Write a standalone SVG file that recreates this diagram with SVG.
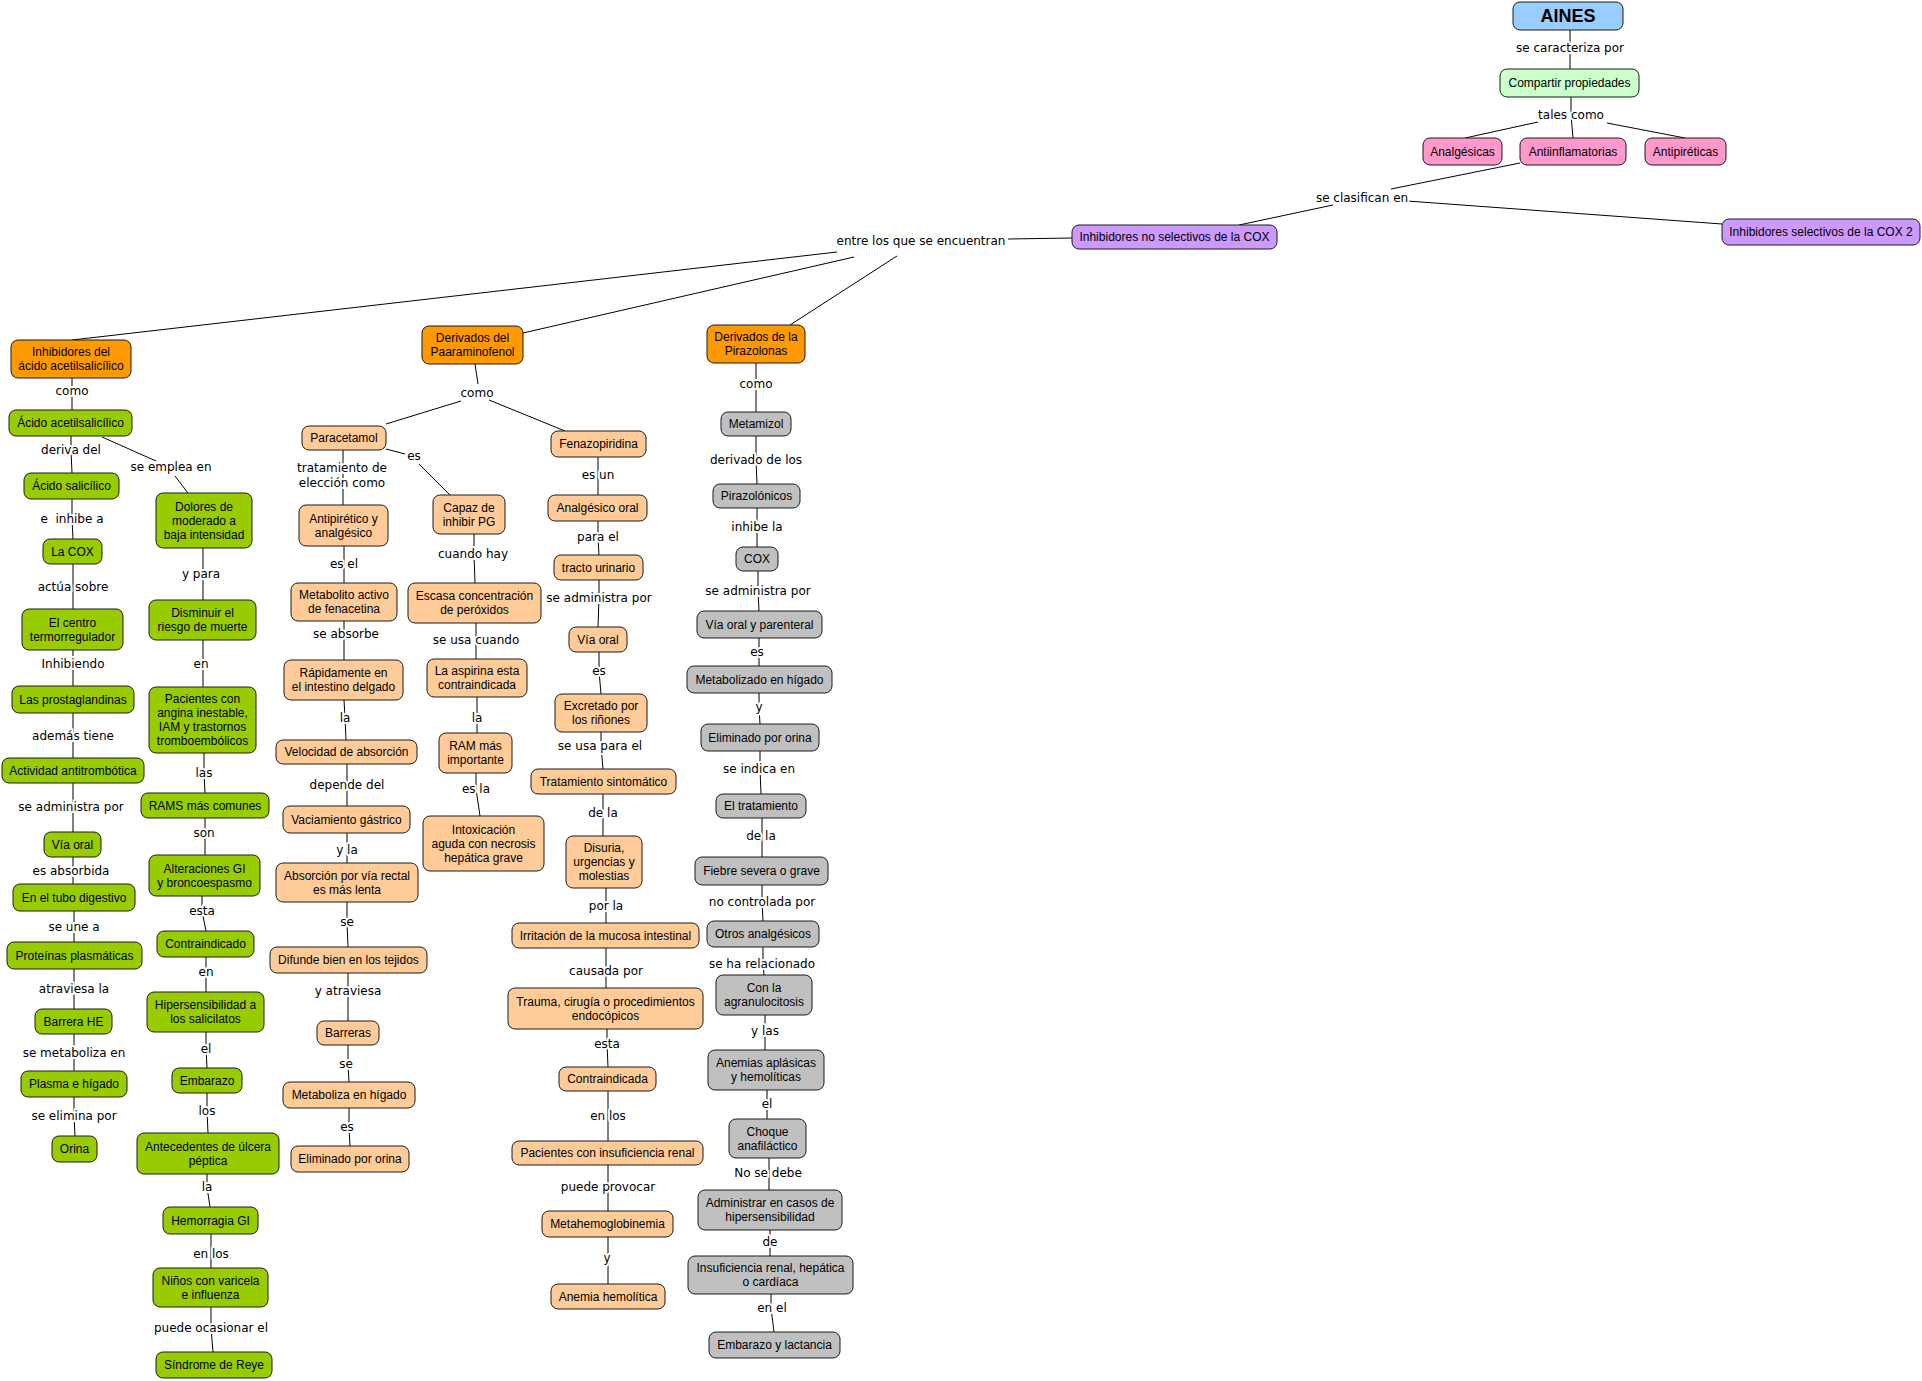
<svg xmlns="http://www.w3.org/2000/svg" width="1922" height="1381" viewBox="0 0 1922 1381">
<style>
rect.n{stroke:#1a1a1a;stroke-width:1}
.blue{fill:#99ccff}.lg{fill:#ccffcc}.pink{fill:#ff99cc}.pur{fill:#cc99ff}
.or{fill:#ff9900}.gr{fill:#99cc00}.lo{fill:#ffcc99}.gy{fill:#c0c0c0}
text.t{font-family:"Liberation Sans",Arial,sans-serif;font-size:12px;text-anchor:middle;fill:#000}
text.l{font-family:"DejaVu Sans",Verdana,sans-serif;font-size:12px;text-anchor:middle;fill:#000;stroke:#fff;stroke-width:4px;stroke-linejoin:round;paint-order:stroke}
#connectors path{stroke:#000;stroke-width:1;fill:none}
</style>
<rect width="1922" height="1381" fill="#fff"/>
<g id="connectors">
<path d="M1570,30V69"/>
<path d="M1571,97L1571,115L1573,138"/>
<path d="M1538,122L1465,138"/>
<path d="M1607,123L1685,138"/>
<path d="M1520,163L1391,189"/>
<path d="M1333,205L1239,225"/>
<path d="M1407,201L1722,224"/>
<path d="M1008,239L1072,238"/>
<path d="M837,252L72,340"/>
<path d="M854,257L523,333"/>
<path d="M897,256L790,325"/>
<path d="M72,378V410"/>
<path d="M71,436L71,450L72,473"/>
<path d="M102,437L156,461"/>
<path d="M175,476L188,493"/>
<path d="M72,499L72,519L73,539"/>
<path d="M73,564V609"/>
<path d="M73,650V686"/>
<path d="M73,713V758"/>
<path d="M73,783V832"/>
<path d="M73,857V884"/>
<path d="M74,911V942"/>
<path d="M74,969V1009"/>
<path d="M74,1034V1071"/>
<path d="M74,1097L74,1116L75,1136"/>
<path d="M203,548V600"/>
<path d="M203,640V687"/>
<path d="M204,753L204,773L205,793"/>
<path d="M205,818V855"/>
<path d="M202,896L202,911L206,931"/>
<path d="M206,957V992"/>
<path d="M206,1032L206,1049L207,1068"/>
<path d="M207,1093L207,1111L208,1133"/>
<path d="M207,1174L207,1187L210,1207"/>
<path d="M211,1234V1268"/>
<path d="M211,1307L211,1328L213,1352"/>
<path d="M475,364L478,384"/>
<path d="M461,401L386,424"/>
<path d="M489,400L565,431"/>
<path d="M343,450V505"/>
<path d="M386,449L405,454"/>
<path d="M419,464L450,495"/>
<path d="M344,546V583"/>
<path d="M344,621V660"/>
<path d="M344,700L345,718L346,740"/>
<path d="M347,764V806"/>
<path d="M347,833V863"/>
<path d="M347,902L347,922L348,947"/>
<path d="M348,973V1021"/>
<path d="M348,1045L348,1064L349,1082"/>
<path d="M349,1108L349,1127L350,1146"/>
<path d="M474,534L474,554L475,583"/>
<path d="M476,623V659"/>
<path d="M477,697V733"/>
<path d="M476,773L476,789L480,816"/>
<path d="M598,457V495"/>
<path d="M598,521L598,537L599,555"/>
<path d="M599,580L599,598L598,627"/>
<path d="M599,652L599,671L601,694"/>
<path d="M601,732L601,746L603,769"/>
<path d="M603,794V836"/>
<path d="M606,888V923"/>
<path d="M606,948V988"/>
<path d="M607,1029L607,1044L608,1067"/>
<path d="M608,1091V1141"/>
<path d="M608,1165V1211"/>
<path d="M608,1237V1284"/>
<path d="M756,363V412"/>
<path d="M756,436L756,460L757,484"/>
<path d="M757,508V547"/>
<path d="M758,571L758,591L759,611"/>
<path d="M759,638V666"/>
<path d="M759,693L759,707L760,724"/>
<path d="M760,751L760,769L761,794"/>
<path d="M762,818V857"/>
<path d="M762,885L762,902L763,921"/>
<path d="M763,947L763,964L764,975"/>
<path d="M765,1015V1050"/>
<path d="M767,1090V1119"/>
<path d="M769,1158V1190"/>
<path d="M770,1230V1256"/>
<path d="M771,1294L771,1308L774,1332"/>
</g>
<g id="link-labels">
<text class="l" x="1570" y="52">se caracteriza por</text>
<text class="l" x="1571" y="119">tales como</text>
<text class="l" x="1362" y="202">se clasifican en</text>
<text class="l" x="921" y="245">entre los que se encuentran</text>
<text class="l" x="72" y="395">como</text>
<text class="l" x="71" y="454">deriva del</text>
<text class="l" x="171" y="471">se emplea en</text>
<text class="l" x="72" y="523" xml:space="preserve" style="white-space:pre">e  inhibe a</text>
<text class="l" x="73" y="591">actúa sobre</text>
<text class="l" x="73" y="668">Inhibiendo</text>
<text class="l" x="73" y="740">además tiene</text>
<text class="l" x="71" y="811">se administra por</text>
<text class="l" x="71" y="875">es absorbida</text>
<text class="l" x="74" y="931">se une a</text>
<text class="l" x="74" y="993">atraviesa la</text>
<text class="l" x="74" y="1057">se metaboliza en</text>
<text class="l" x="74" y="1120">se elimina por</text>
<text class="l" x="201" y="578">y para</text>
<text class="l" x="201" y="668">en</text>
<text class="l" x="204" y="777">las</text>
<text class="l" x="204" y="837">son</text>
<text class="l" x="202" y="915">esta</text>
<text class="l" x="206" y="976">en</text>
<text class="l" x="206" y="1053">el</text>
<text class="l" x="207" y="1115">los</text>
<text class="l" x="207" y="1191">la</text>
<text class="l" x="211" y="1258">en los</text>
<text class="l" x="211" y="1332">puede ocasionar el</text>
<text class="l" x="477" y="397">como</text>
<text class="l" x="414" y="460">es</text>
<text class="l" x="342" y="472">tratamiento de</text>
<text class="l" x="342" y="487">elección como</text>
<text class="l" x="344" y="568">es el</text>
<text class="l" x="346" y="638">se absorbe</text>
<text class="l" x="345" y="722">la</text>
<text class="l" x="347" y="789">depende del</text>
<text class="l" x="347" y="854">y la</text>
<text class="l" x="347" y="926">se</text>
<text class="l" x="348" y="995">y atraviesa</text>
<text class="l" x="346" y="1068">se</text>
<text class="l" x="347" y="1131">es</text>
<text class="l" x="473" y="558">cuando hay</text>
<text class="l" x="476" y="644">se usa cuando</text>
<text class="l" x="477" y="722">la</text>
<text class="l" x="476" y="793">es la</text>
<text class="l" x="598" y="479">es un</text>
<text class="l" x="598" y="541">para el</text>
<text class="l" x="599" y="602">se administra por</text>
<text class="l" x="599" y="675">es</text>
<text class="l" x="600" y="750">se usa para el</text>
<text class="l" x="603" y="817">de la</text>
<text class="l" x="606" y="910">por la</text>
<text class="l" x="606" y="975">causada por</text>
<text class="l" x="607" y="1048">esta</text>
<text class="l" x="608" y="1120">en los</text>
<text class="l" x="608" y="1191">puede provocar</text>
<text class="l" x="607" y="1262">y</text>
<text class="l" x="756" y="388">como</text>
<text class="l" x="756" y="464">derivado de los</text>
<text class="l" x="757" y="531">inhibe la</text>
<text class="l" x="758" y="595">se administra por</text>
<text class="l" x="757" y="656">es</text>
<text class="l" x="759" y="711">y</text>
<text class="l" x="759" y="773">se indica en</text>
<text class="l" x="761" y="840">de la</text>
<text class="l" x="762" y="906">no controlada por</text>
<text class="l" x="762" y="968">se ha relacionado</text>
<text class="l" x="765" y="1035">y las</text>
<text class="l" x="767" y="1108">el</text>
<text class="l" x="768" y="1177">No se debe</text>
<text class="l" x="770" y="1246">de</text>
<text class="l" x="772" y="1312">en el</text>
</g>
<g id="n-aines"><rect class="n blue" x="1513" y="2" width="110" height="28" rx="7"/><text class="t" x="1568" y="22" style="font-size:18px;font-weight:bold">AINES</text></g>
<g id="n-compartir"><rect class="n lg" x="1500" y="69" width="139" height="28" rx="7"/><text class="t" x="1569.5" y="87">Compartir propiedades</text></g>
<g id="n-analgesicas"><rect class="n pink" x="1423" y="138" width="79" height="27" rx="7"/><text class="t" x="1462.5" y="155.5">Analgésicas</text></g>
<g id="n-antiinflamatorias"><rect class="n pink" x="1520" y="138" width="106" height="27" rx="7"/><text class="t" x="1573" y="155.5">Antiinflamatorias</text></g>
<g id="n-antipireticas"><rect class="n pink" x="1645" y="138" width="81" height="27" rx="7"/><text class="t" x="1685.5" y="155.5">Antipiréticas</text></g>
<g id="n-inh-no-sel"><rect class="n pur" x="1072" y="225" width="205" height="24" rx="7"/><text class="t" x="1174.5" y="241">Inhibidores no selectivos de la COX</text></g>
<g id="n-inh-sel"><rect class="n pur" x="1722" y="219" width="198" height="26" rx="7"/><text class="t" x="1821" y="236">Inhibidores selectivos de la COX 2</text></g>
<g id="n-inh-acido"><rect class="n or" x="11" y="340" width="120" height="38" rx="7"/><text class="t" x="71"><tspan x="71" y="356">Inhibidores del</tspan><tspan x="71" y="370">ácido acetilsalicílico</tspan></text></g>
<g id="n-der-paar"><rect class="n or" x="422" y="326" width="101" height="38" rx="7"/><text class="t"><tspan x="472.5" y="342">Derivados del</tspan><tspan x="472.5" y="356">Paaraminofenol</tspan></text></g>
<g id="n-der-piraz"><rect class="n or" x="707" y="325" width="98" height="38" rx="7"/><text class="t"><tspan x="756" y="341">Derivados de la</tspan><tspan x="756" y="355">Pirazolonas</tspan></text></g>
<g id="n-acido-acetil"><rect class="n gr" x="9" y="410" width="123" height="26" rx="7"/><text class="t" x="70.5" y="427">Ácido acetilsalicílico</text></g>
<g id="n-acido-salicilico"><rect class="n gr" x="24" y="473" width="95" height="26" rx="7"/><text class="t" x="71.5" y="490">Ácido salicílico</text></g>
<g id="n-la-cox"><rect class="n gr" x="43" y="539" width="59" height="25" rx="7"/><text class="t" x="72.5" y="555.5">La COX</text></g>
<g id="n-centro"><rect class="n gr" x="22" y="609" width="101" height="41" rx="7"/><text class="t"><tspan x="72.5" y="626.5">El centro</tspan><tspan x="72.5" y="640.5">termorregulador</tspan></text></g>
<g id="n-prostaglandinas"><rect class="n gr" x="12" y="686" width="122" height="27" rx="7"/><text class="t" x="73" y="703.5">Las prostaglandinas</text></g>
<g id="n-actividad"><rect class="n gr" x="2" y="758" width="142" height="25" rx="7"/><text class="t" x="73" y="774.5">Actividad antitrombótica</text></g>
<g id="n-via-oral-a"><rect class="n gr" x="44" y="832" width="57" height="25" rx="7"/><text class="t" x="72.5" y="848.5">Vía oral</text></g>
<g id="n-tubo"><rect class="n gr" x="13" y="884" width="122" height="27" rx="7"/><text class="t" x="74" y="901.5">En el tubo digestivo</text></g>
<g id="n-proteinas"><rect class="n gr" x="7" y="942" width="135" height="27" rx="7"/><text class="t" x="74.5" y="959.5">Proteínas plasmáticas</text></g>
<g id="n-barrera-he"><rect class="n gr" x="35" y="1009" width="77" height="25" rx="7"/><text class="t" x="73.5" y="1025.5">Barrera HE</text></g>
<g id="n-plasma"><rect class="n gr" x="21" y="1071" width="106" height="26" rx="7"/><text class="t" x="74" y="1088">Plasma e hígado</text></g>
<g id="n-orina"><rect class="n gr" x="52" y="1136" width="45" height="26" rx="7"/><text class="t" x="74.5" y="1153">Orina</text></g>
<g id="n-dolores"><rect class="n gr" x="156" y="493" width="96" height="55" rx="7"/><text class="t"><tspan x="204" y="510.5">Dolores de</tspan><tspan x="204" y="524.5">moderado a</tspan><tspan x="204" y="538.5">baja intensidad</tspan></text></g>
<g id="n-disminuir"><rect class="n gr" x="149" y="600" width="107" height="40" rx="7"/><text class="t"><tspan x="202.5" y="617">Disminuir el</tspan><tspan x="202.5" y="631">riesgo de muerte</tspan></text></g>
<g id="n-pacientes-angina"><rect class="n gr" x="149" y="687" width="107" height="66" rx="7"/><text class="t"><tspan x="202.5" y="703">Pacientes con</tspan><tspan x="202.5" y="717">angina inestable,</tspan><tspan x="202.5" y="731">IAM y trastornos</tspan><tspan x="202.5" y="745">tromboembólicos</tspan></text></g>
<g id="n-rams"><rect class="n gr" x="141" y="793" width="128" height="25" rx="7"/><text class="t" x="205" y="809.5">RAMS más comunes</text></g>
<g id="n-alteraciones"><rect class="n gr" x="149" y="855" width="111" height="41" rx="7"/><text class="t"><tspan x="204.5" y="872.5">Alteraciones GI</tspan><tspan x="204.5" y="886.5">y broncoespasmo</tspan></text></g>
<g id="n-contraindicado"><rect class="n gr" x="157" y="931" width="97" height="26" rx="7"/><text class="t" x="205.5" y="948">Contraindicado</text></g>
<g id="n-hipersens"><rect class="n gr" x="147" y="992" width="117" height="40" rx="7"/><text class="t"><tspan x="205.5" y="1009">Hipersensibilidad a</tspan><tspan x="205.5" y="1023">los salicilatos</tspan></text></g>
<g id="n-embarazo"><rect class="n gr" x="172" y="1068" width="70" height="25" rx="7"/><text class="t" x="207" y="1084.5">Embarazo</text></g>
<g id="n-antecedentes"><rect class="n gr" x="137" y="1133" width="142" height="41" rx="7"/><text class="t"><tspan x="208" y="1150.5">Antecedentes de úlcera</tspan><tspan x="208" y="1164.5">péptica</tspan></text></g>
<g id="n-hemorragia"><rect class="n gr" x="163" y="1207" width="95" height="27" rx="7"/><text class="t" x="210.5" y="1224.5">Hemorragia GI</text></g>
<g id="n-ninos"><rect class="n gr" x="153" y="1268" width="115" height="39" rx="7"/><text class="t"><tspan x="210.5" y="1284.5">Niños con varicela</tspan><tspan x="210.5" y="1298.5">e influenza</tspan></text></g>
<g id="n-reye"><rect class="n gr" x="156" y="1352" width="116" height="26" rx="7"/><text class="t" x="214" y="1369">Síndrome de Reye</text></g>
<g id="n-paracetamol"><rect class="n lo" x="302" y="426" width="84" height="24" rx="7"/><text class="t" x="344" y="442">Paracetamol</text></g>
<g id="n-antipiretico"><rect class="n lo" x="299" y="505" width="89" height="41" rx="7"/><text class="t"><tspan x="343.5" y="522.5">Antipirético y</tspan><tspan x="343.5" y="536.5">analgésico</tspan></text></g>
<g id="n-metabolito"><rect class="n lo" x="291" y="583" width="106" height="38" rx="7"/><text class="t"><tspan x="344" y="599">Metabolito activo</tspan><tspan x="344" y="613">de fenacetina</tspan></text></g>
<g id="n-rapidamente"><rect class="n lo" x="284" y="660" width="119" height="40" rx="7"/><text class="t"><tspan x="343.5" y="677">Rápidamente en</tspan><tspan x="343.5" y="691">el intestino delgado</tspan></text></g>
<g id="n-velocidad"><rect class="n lo" x="276" y="740" width="141" height="24" rx="7"/><text class="t" x="346.5" y="756">Velocidad de absorción</text></g>
<g id="n-vaciamiento"><rect class="n lo" x="283" y="806" width="127" height="27" rx="7"/><text class="t" x="346.5" y="823.5">Vaciamiento gástrico</text></g>
<g id="n-absorcion-rectal"><rect class="n lo" x="276" y="863" width="142" height="39" rx="7"/><text class="t"><tspan x="347" y="879.5">Absorción por vía rectal</tspan><tspan x="347" y="893.5">es más lenta</tspan></text></g>
<g id="n-difunde"><rect class="n lo" x="270" y="947" width="157" height="26" rx="7"/><text class="t" x="348.5" y="964">Difunde bien en los tejidos</text></g>
<g id="n-barreras"><rect class="n lo" x="317" y="1021" width="62" height="24" rx="7"/><text class="t" x="348" y="1037">Barreras</text></g>
<g id="n-metaboliza"><rect class="n lo" x="283" y="1082" width="132" height="26" rx="7"/><text class="t" x="349" y="1099">Metaboliza en hígado</text></g>
<g id="n-eliminado-c"><rect class="n lo" x="291" y="1146" width="118" height="26" rx="7"/><text class="t" x="350" y="1163">Eliminado por orina</text></g>
<g id="n-capaz"><rect class="n lo" x="433" y="495" width="72" height="39" rx="7"/><text class="t"><tspan x="469" y="511.5">Capaz de</tspan><tspan x="469" y="525.5">inhibir PG</tspan></text></g>
<g id="n-escasa"><rect class="n lo" x="408" y="583" width="133" height="40" rx="7"/><text class="t"><tspan x="474.5" y="600">Escasa concentración</tspan><tspan x="474.5" y="614">de peróxidos</tspan></text></g>
<g id="n-aspirina"><rect class="n lo" x="427" y="659" width="100" height="38" rx="7"/><text class="t"><tspan x="477" y="675">La aspirina esta</tspan><tspan x="477" y="689">contraindicada</tspan></text></g>
<g id="n-ram"><rect class="n lo" x="439" y="733" width="73" height="40" rx="7"/><text class="t"><tspan x="475.5" y="750">RAM más</tspan><tspan x="475.5" y="764">importante</tspan></text></g>
<g id="n-intoxicacion"><rect class="n lo" x="423" y="816" width="121" height="55" rx="7"/><text class="t"><tspan x="483.5" y="833.5">Intoxicación</tspan><tspan x="483.5" y="847.5">aguda con necrosis</tspan><tspan x="483.5" y="861.5">hepática grave</tspan></text></g>
<g id="n-fenazopiridina"><rect class="n lo" x="551" y="431" width="95" height="26" rx="7"/><text class="t" x="598.5" y="448">Fenazopiridina</text></g>
<g id="n-analgesico-oral"><rect class="n lo" x="548" y="495" width="99" height="26" rx="7"/><text class="t" x="597.5" y="512">Analgésico oral</text></g>
<g id="n-tracto"><rect class="n lo" x="554" y="555" width="89" height="25" rx="7"/><text class="t" x="598.5" y="571.5">tracto urinario</text></g>
<g id="n-via-oral-e"><rect class="n lo" x="569" y="627" width="58" height="25" rx="7"/><text class="t" x="598" y="643.5">Vía oral</text></g>
<g id="n-excretado"><rect class="n lo" x="555" y="694" width="92" height="38" rx="7"/><text class="t"><tspan x="601" y="710">Excretado por</tspan><tspan x="601" y="724">los riñones</tspan></text></g>
<g id="n-tratamiento-sint"><rect class="n lo" x="531" y="769" width="145" height="25" rx="7"/><text class="t" x="603.5" y="785.5">Tratamiento sintomático</text></g>
<g id="n-disuria"><rect class="n lo" x="566" y="836" width="76" height="52" rx="7"/><text class="t"><tspan x="604" y="852">Disuria,</tspan><tspan x="604" y="866">urgencias y</tspan><tspan x="604" y="880">molestias</tspan></text></g>
<g id="n-irritacion"><rect class="n lo" x="512" y="923" width="187" height="25" rx="7"/><text class="t" x="605.5" y="939.5">Irritación de la mucosa intestinal</text></g>
<g id="n-trauma"><rect class="n lo" x="508" y="988" width="195" height="41" rx="7"/><text class="t"><tspan x="605.5" y="1005.5">Trauma, cirugía o procedimientos</tspan><tspan x="605.5" y="1019.5">endocópicos</tspan></text></g>
<g id="n-contraindicada"><rect class="n lo" x="559" y="1067" width="97" height="24" rx="7"/><text class="t" x="607.5" y="1083">Contraindicada</text></g>
<g id="n-pacientes-ir"><rect class="n lo" x="512" y="1141" width="191" height="24" rx="7"/><text class="t" x="607.5" y="1157">Pacientes con insuficiencia renal</text></g>
<g id="n-metahemo"><rect class="n lo" x="542" y="1211" width="131" height="26" rx="7"/><text class="t" x="607.5" y="1228">Metahemoglobinemia</text></g>
<g id="n-anemia-hemolitica"><rect class="n lo" x="551" y="1284" width="114" height="25" rx="7"/><text class="t" x="608" y="1300.5">Anemia hemolítica</text></g>
<g id="n-metamizol"><rect class="n gy" x="721" y="412" width="70" height="24" rx="7"/><text class="t" x="756" y="428">Metamizol</text></g>
<g id="n-pirazolonicos"><rect class="n gy" x="713" y="484" width="87" height="24" rx="7"/><text class="t" x="756.5" y="500">Pirazolónicos</text></g>
<g id="n-cox"><rect class="n gy" x="736" y="547" width="42" height="24" rx="7"/><text class="t" x="757" y="563">COX</text></g>
<g id="n-via-parenteral"><rect class="n gy" x="697" y="611" width="125" height="27" rx="7"/><text class="t" x="759.5" y="628.5">Vía oral y parenteral</text></g>
<g id="n-metabolizado"><rect class="n gy" x="687" y="666" width="145" height="27" rx="7"/><text class="t" x="759.5" y="683.5">Metabolizado en hígado</text></g>
<g id="n-eliminado-f"><rect class="n gy" x="701" y="724" width="118" height="27" rx="7"/><text class="t" x="760" y="741.5">Eliminado por orina</text></g>
<g id="n-el-tratamiento"><rect class="n gy" x="716" y="794" width="90" height="24" rx="7"/><text class="t" x="761" y="810">El tratamiento</text></g>
<g id="n-fiebre"><rect class="n gy" x="695" y="857" width="133" height="28" rx="7"/><text class="t" x="761.5" y="875">Fiebre severa o grave</text></g>
<g id="n-otros"><rect class="n gy" x="707" y="921" width="112" height="26" rx="7"/><text class="t" x="763" y="938">Otros analgésicos</text></g>
<g id="n-agranulocitosis"><rect class="n gy" x="716" y="975" width="96" height="40" rx="7"/><text class="t"><tspan x="764" y="992">Con la</tspan><tspan x="764" y="1006">agranulocitosis</tspan></text></g>
<g id="n-anemias"><rect class="n gy" x="708" y="1050" width="116" height="40" rx="7"/><text class="t"><tspan x="766" y="1067">Anemias aplásicas</tspan><tspan x="766" y="1081">y hemolíticas</tspan></text></g>
<g id="n-choque"><rect class="n gy" x="729" y="1119" width="77" height="39" rx="7"/><text class="t"><tspan x="767.5" y="1135.5">Choque</tspan><tspan x="767.5" y="1149.5">anafiláctico</tspan></text></g>
<g id="n-administrar"><rect class="n gy" x="698" y="1190" width="144" height="40" rx="7"/><text class="t"><tspan x="770" y="1207">Administrar en casos de</tspan><tspan x="770" y="1221">hipersensibilidad</tspan></text></g>
<g id="n-insuficiencia"><rect class="n gy" x="688" y="1256" width="165" height="38" rx="7"/><text class="t"><tspan x="770.5" y="1272">Insuficiencia renal, hepática</tspan><tspan x="770.5" y="1286">o cardíaca</tspan></text></g>
<g id="n-embarazo-lactancia"><rect class="n gy" x="709" y="1332" width="131" height="26" rx="7"/><text class="t" x="774.5" y="1349">Embarazo y lactancia</text></g>
</svg>
